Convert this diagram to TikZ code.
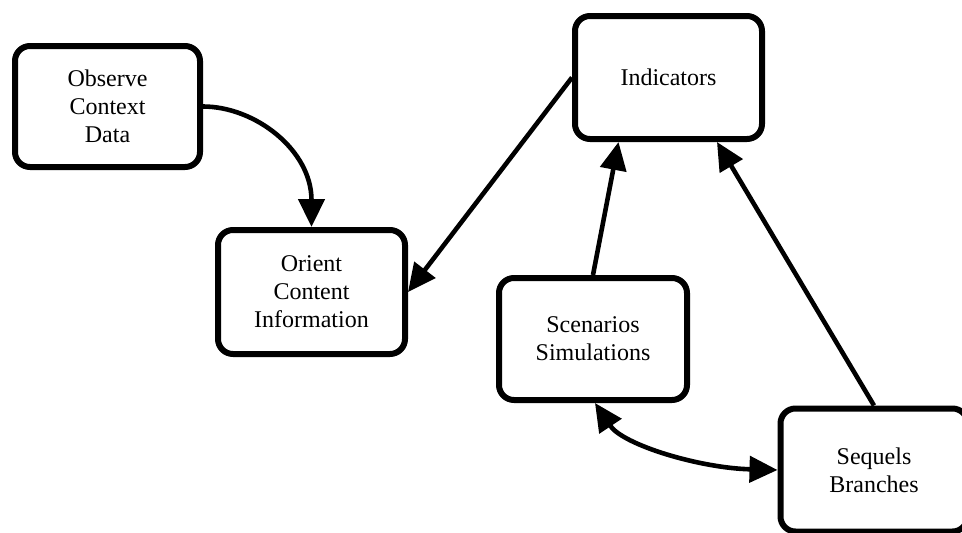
\documentclass[tikz,border=0pt]{standalone}
\usepackage{fontspec}
\setmainfont{Liberation Serif}
\usetikzlibrary{arrows.meta}
\begin{document}
\begin{tikzpicture}[x=1pt,y=-1pt,
  boxnode/.style={draw=black, line width=6pt, rounded corners=15pt, fill=white,
    minimum width=187pt, minimum height=123pt, align=center, inner sep=0pt,
    font=\fontsize{24}{28}\selectfont},
  link/.style={draw=black, line width=4.6pt, -{Triangle[length=28pt,width=26pt]}},
  twoway/.style={draw=black, line width=4.6pt, {Triangle[length=28pt,width=26pt]}-{Triangle[length=28pt,width=26pt]}}]
  \useasboundingbox (0,0) rectangle (962,533);

  % process boxes
  \node[boxnode, minimum width=185pt, minimum height=121pt] (obs) at (107.5,106.5) {Observe\\Context\\Data};
  \node[boxnode, minimum height=124pt] (ori) at (311.5,292) {Orient\\Content\\Information};
  \node[boxnode] (ind) at (668.5,77.5) {Indicators};
  \node[boxnode, minimum width=188pt, minimum height=122pt] (sce) at (593,339) {Scenarios\\Simulations};
  \node[boxnode] (seq) at (874,470) {Sequels\\Branches};

  % connectors
  \draw[link] (obs.east) .. controls +(52,0) and +(0,-77) .. (ori.north);
  \draw[link] (ind.west) -- (ori.east);
  \draw[link] (sce.north) -- ([xshift=-50pt]ind.south);
  \draw[link] (seq.north) -- ([xshift=48.5pt]ind.south);
  \draw[twoway] ([xshift=2pt]sce.south) .. controls +(28,42) and +(-78,-2) .. (seq.west);
\end{tikzpicture}
\end{document}
